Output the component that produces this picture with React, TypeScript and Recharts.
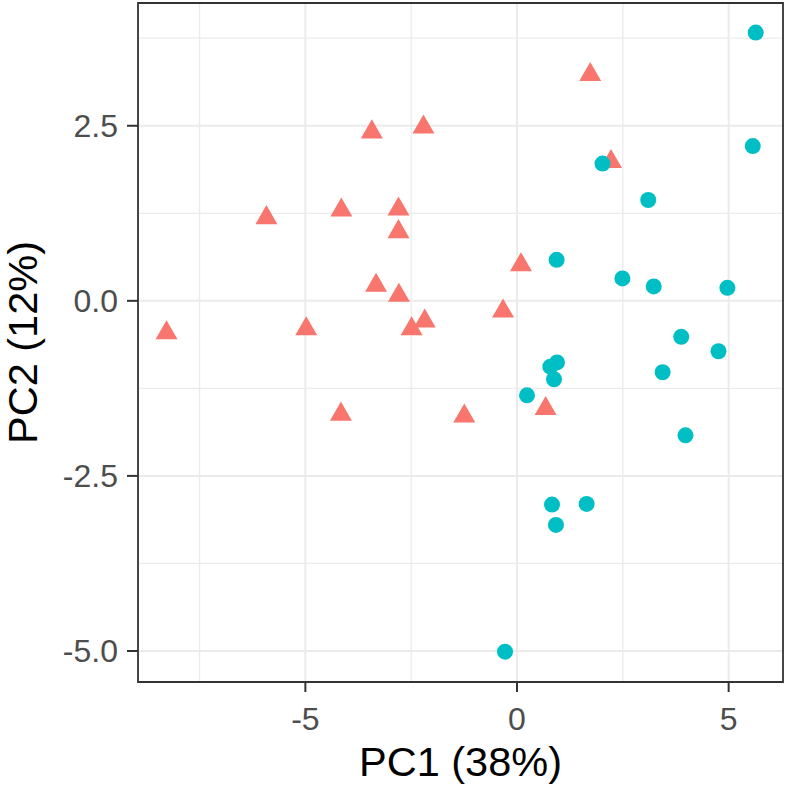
import React from 'react'
import {
  ScatterChart,
  Scatter,
  XAxis,
  YAxis,
  CartesianGrid,
  ReferenceArea,
  Label,
} from 'recharts'

// PC scores
const groupAx = [-8.28, -5.92, -4.98, -4.15, -4.16, -3.43, -3.33, -2.8, -2.8, -2.79, -2.49, -2.21, -2.18, -1.245, -0.33, 0.094, 0.676, 1.73, 2.22]
const groupAy = [-0.457, 1.186, -0.4, 1.296, -1.62, 2.41, 0.219, 1.31, 0.986, 0.076, -0.4, 2.48, -0.29, -1.647, -0.147, 0.514, -1.54, 3.23, 1.986]

const groupBx = [5.64, 5.57, 2.02, 3.1, 0.936, 2.49, 3.23, 4.97, 3.88, 4.76, 3.44, 0.945, 0.787, 0.874, 0.236, 3.98, 0.827, 1.645, 0.92, -0.283]
const groupBy = [3.83, 2.21, 1.96, 1.44, 0.586, 0.32, 0.206, 0.186, -0.514, -0.72, -1.02, -0.88, -0.94, -1.12, -1.35, -1.92, -2.91, -2.9, -3.2, -5.01]

const xTicks = [-5, 0, 5]
const yTicks = [-5, -2.5, 0, 2.5]
const xMinor = [-7.5, -2.5, 2.5]
const yMinor = [-3.75, -1.25, 1.25, 3.75]

const X_DOMAIN: [number, number] = [-8.954, 6.284]
const Y_DOMAIN: [number, number] = [-5.443, 4.253]

const RED = '#F8766D'
const TEAL = '#00BFC4'
const FONT = '"Liberation Sans", Arial, sans-serif'

const groupA = groupAx.map((x, i) => ({ x, y: groupAy[i] }))
const groupB = groupBx.map((x, i) => ({ x, y: groupBy[i] }))

const Triangle = (props: { cx?: number; cy?: number }) => {
  const { cx = 0, cy = 0 } = props
  // centroid sits on the data point, like R's pch 17
  const r = 12.7
  const hw = 11
  return (
    <path
      d={`M${cx},${cy - r} L${cx + hw},${cy + r / 2} L${cx - hw},${cy + r / 2} Z`}
      fill={RED}
    />
  )
}

const Dot = (props: { cx?: number; cy?: number }) => (
  <circle cx={props.cx} cy={props.cy} r={8} fill={TEAL} />
)

export default function App() {
  return (
    <div style={{ position: 'absolute', left: 0, top: 0, fontFamily: FONT }}>
      <ScatterChart width={788} height={788} margin={{ top: 3, right: 5, left: 0, bottom: 0 }}>
        <CartesianGrid
          horizontalValues={yMinor}
          verticalValues={xMinor}
          stroke="#ebebeb"
          strokeWidth={1.3}
        />
        <CartesianGrid
          horizontalValues={yTicks}
          verticalValues={xTicks}
          stroke="#ebebeb"
          strokeWidth={2}
        />
        <XAxis
          dataKey="x"
          type="number"
          domain={X_DOMAIN}
          ticks={xTicks}
          allowDataOverflow
          height={106}
          axisLine={false}
          tickSize={10}
          tickMargin={15}
          tickLine={{ stroke: '#333333', strokeWidth: 2 }}
          tick={{ fill: '#4d4d4d', fontSize: 32, fontFamily: FONT }}
        >
          <Label
            value="PC1 (38%)"
            position="insideBottom"
            offset={12}
            fill="#000000"
            fontSize={41.5}
            fontFamily={FONT}
          />
        </XAxis>
        <YAxis
          dataKey="y"
          type="number"
          domain={Y_DOMAIN}
          ticks={yTicks}
          allowDataOverflow
          width={138}
          axisLine={false}
          tickSize={11}
          tickMargin={9}
          tickFormatter={v => Number(v).toFixed(1)}
          tickLine={{ stroke: '#333333', strokeWidth: 2 }}
          tick={{ fill: '#4d4d4d', fontSize: 32, fontFamily: FONT }}
        >
          <Label
            value="PC2 (12%)"
            position="insideLeft"
            angle={-90}
            offset={22}
            fill="#000000"
            fontSize={41.5}
            fontFamily={FONT}
            style={{ textAnchor: 'middle' }}
          />
        </YAxis>
        <Scatter data={groupA} shape={<Triangle />} isAnimationActive={false} />
        <Scatter data={groupB} shape={<Dot />} isAnimationActive={false} />
        {/* panel border */}
        <ReferenceArea
          x1={X_DOMAIN[0]}
          x2={X_DOMAIN[1]}
          y1={Y_DOMAIN[0]}
          y2={Y_DOMAIN[1]}
          fill="none"
          fillOpacity={0}
          stroke="#333333"
          strokeWidth={1.8}
          ifOverflow="visible"
        />
      </ScatterChart>
    </div>
  )
}
